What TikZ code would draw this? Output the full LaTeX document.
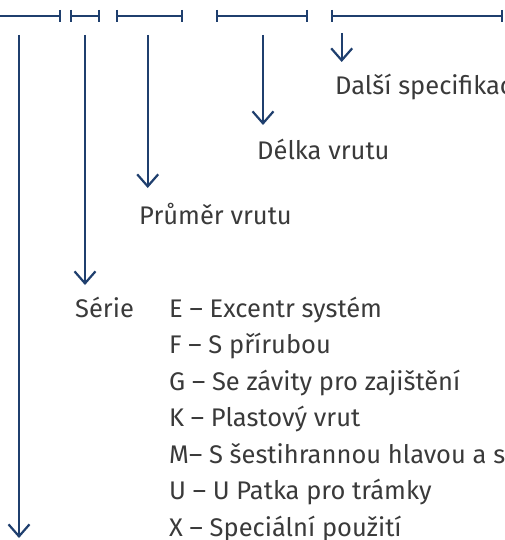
\documentclass[tikz,border=0pt]{standalone}
\usepackage{fontspec}
\setmainfont{Fira Sans}
\usetikzlibrary{arrows.meta}
\definecolor{navy}{HTML}{1F3F6E}
\definecolor{txt}{HTML}{3A3A3A}
\begin{document}
\begin{tikzpicture}[x=1pt,y=-1pt,
  bar/.style={draw=navy,line width=2.2pt},
  tick/.style={draw=navy,line width=2.2pt},
  pointer/.style={draw=navy,line width=2.2pt,-{Straight Barb[length=12pt,width=21pt,line width=2.2pt]}},
  lbl/.style={anchor=base west,inner sep=0pt,text=txt,font=\fontsize{25.5}{28}\selectfont}]
\useasboundingbox (0,0) rectangle (505,540);
\clip (0,0) rectangle (505,540);
% top segments
\foreach \a/\b/\n in {-5/60.3/s1,70.7/98.7/s2,116.7/182.3/s3,217.3/307.3/s4,331.7/501.7/s5}{
  \coordinate (\n l) at (\a,16);
  \coordinate (\n r) at (\b,16);
  \draw[bar] (\n l) -- (\n r);
}
\foreach \x in {60.3,70.7,98.7,116.7,182.3,217.3,307.3,331.7,501.7}{
  \draw[tick] (\x,10) -- (\x,22);
}
% labels
\node[lbl] (dalsi) at (335,95) {Další specifikace};
\node[lbl] (delka) at (257,160) {Délka vrutu};
\node[lbl] (prumer) at (139,224) {Průměr vrutu};
\node[lbl] (serie) at (75,317) {Série};
\node[lbl] (e) at (169,317) {E – Excentr systém};
\node[lbl] (f) at (169,353.5) {F – S přírubou};
\node[lbl] (g) at (169,390) {G – Se závity pro zajištění};
\node[lbl] (k) at (169,426.5) {K – Plastový vrut};
\node[lbl] (m) at (169,463) {M– S šestihrannou hlavou a s};
\node[lbl] (u) at (169,499.5) {U – U Patka pro trámky};
\node[lbl] (x) at (169,536) {X – Speciální použití};
% pointers
\coordinate (p1a) at (19,35);    \coordinate (p1b) at (19,538);
\coordinate (p2a) at (85,35);    \coordinate (p2b) at (85,285);
\coordinate (p3a) at (147.7,35); \coordinate (p3b) at (147.7,188);
\coordinate (p4a) at (263,35);   \coordinate (p4b) at (263,125);
\coordinate (p5a) at (341.7,33); \coordinate (p5b) at (341.7,62);
\draw[pointer] (p1a) -- (p1b);
\draw[pointer] (p2a) -- (p2b);
\draw[pointer] (p3a) -- (p3b);
\draw[pointer] (p4a) -- (p4b);
\draw[pointer] (p5a) -- (p5b);
\end{tikzpicture}
\end{document}
